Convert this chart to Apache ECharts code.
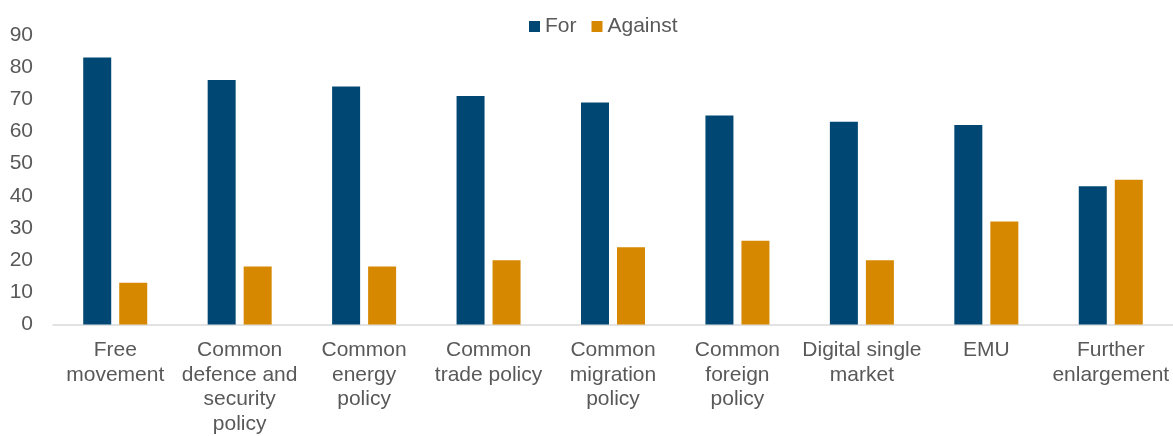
<!DOCTYPE html>
<html><head><meta charset="utf-8">
<script src="https://cdn.jsdelivr.net/npm/echarts@6/dist/echarts.min.js"></script>
<style>html,body{margin:0;padding:0;background:#fff}#c{width:1173px;height:436px}</style>
</head><body><div id="c"></div>
<script>
const categories = ["Free\nmovement","Common\ndefence and\nsecurity\npolicy","Common\nenergy\npolicy","Common\ntrade policy","Common\nmigration\npolicy","Common\nforeign\npolicy","Digital single\nmarket","EMU","Further\nenlargement"];
const forValues = [83,76,74,71,69,65,63,62,43];
const againstValues = [13,18,18,20,24,26,20,32,45];
const yTicks = [0,10,20,30,40,50,60,70,80,90];

const FONT = 'Liberation Sans, Arial, sans-serif';
const chart = echarts.init(document.getElementById('c'));
chart.setOption({
  animation:false,
  textStyle:{fontFamily:FONT},
  legend:{top:16,left:529,padding:0,itemWidth:11,itemHeight:11,itemGap:15,icon:'rect',
    textStyle:{color:'#595959',fontSize:21,fontFamily:FONT},
    data:['For','Against']},
  grid:{left:53,right:0,top:35,bottom:107,containLabel:false},
  xAxis:{type:'category',data:categories,
    axisLine:{lineStyle:{color:'#d9d9d9',width:1.5}},axisTick:{show:false},
    axisLabel:{interval:0,color:'#595959',fontSize:21,lineHeight:24.5,margin:13.5,fontFamily:FONT}},
  yAxis:{type:'value',min:yTicks[0],max:yTicks[yTicks.length-1],interval:10,
    splitLine:{show:false},axisLine:{show:false},axisTick:{show:false},
    axisLabel:{color:'#595959',fontSize:21,margin:20,fontFamily:FONT}},
  series:[
    {name:'For',type:'bar',data:forValues,barWidth:'22.5%',barGap:'28.6%',itemStyle:{color:'#004873'}},
    {name:'Against',type:'bar',data:againstValues,barWidth:'22.5%',barGap:'28.6%',itemStyle:{color:'#D58800'}}
  ]
});
</script></body></html>
